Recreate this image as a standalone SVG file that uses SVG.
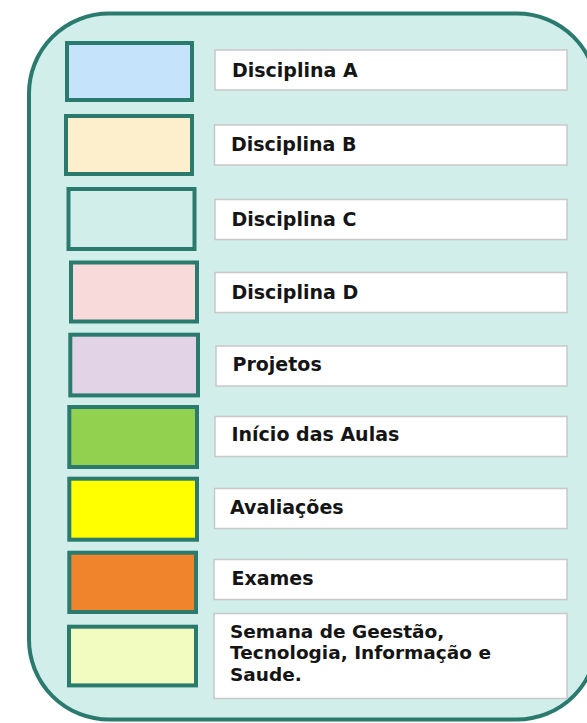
<svg xmlns="http://www.w3.org/2000/svg" width="587" height="723" viewBox="0 0 587 723">
<style>
.frame{fill:#d1eeeb;stroke:#2a7a6d;stroke-width:4}
.sw{stroke:#2a7a6d;stroke-width:4}
.lab{fill:#ffffff;stroke:#c8c8c8;stroke-width:1.5}
.t{font-family:"DejaVu Sans",Verdana,sans-serif;font-weight:bold;font-size:19px;fill:#151515}
.ts{font-family:"DejaVu Sans",Verdana,sans-serif;font-weight:bold;font-size:18.5px;fill:#151515}
</style>
<rect width="587" height="723" fill="#ffffff"/>
<rect id="frame" class="frame" x="29" y="13.5" width="568" height="706" rx="80" ry="80"/>
<g id="legend-a">
<rect class="sw" x="67" y="43" width="125" height="57" fill="#c5e3fb"/>
<rect class="lab" x="215" y="50" width="352" height="40"/>
<text class="t" x="232" y="76.5">Disciplina A</text>
</g>
<g id="legend-b">
<rect class="sw" x="66" y="116" width="126" height="58" fill="#fdefcc"/>
<rect class="lab" x="214.5" y="125" width="352.5" height="40"/>
<text class="t" x="231" y="151">Disciplina B</text>
</g>
<g id="legend-c">
<rect class="sw" x="68.5" y="189" width="126" height="60" fill="#d1eeeb" stroke="#3d9d90"/>
<rect class="lab" x="215" y="199.5" width="352" height="40"/>
<text class="t" x="231.5" y="225.5">Disciplina C</text>
</g>
<g id="legend-d">
<rect class="sw" x="71" y="262.5" width="126" height="59" fill="#f7dad9"/>
<rect class="lab" x="215" y="272.5" width="352" height="40"/>
<text class="t" x="231.5" y="298.5">Disciplina D</text>
</g>
<g id="legend-projetos">
<rect class="sw" x="70.3" y="334.7" width="127.7" height="60.7" fill="#e2d4e6"/>
<rect class="lab" x="216" y="346" width="351" height="40"/>
<text class="t" x="232.5" y="371">Projetos</text>
</g>
<g id="legend-inicio">
<rect class="sw" x="69.3" y="407" width="127.7" height="60" fill="#92d050"/>
<rect class="lab" x="215" y="416.5" width="352" height="40"/>
<text class="t" x="231.5" y="441">Início das Aulas</text>
</g>
<g id="legend-avaliacoes">
<rect class="sw" x="69.3" y="478.7" width="127.7" height="61" fill="#ffff00"/>
<rect class="lab" x="214.5" y="488.5" width="352.5" height="40"/>
<text class="t" x="230" y="513.5">Avaliações</text>
</g>
<g id="legend-exames">
<rect class="sw" x="69.3" y="552.7" width="126.7" height="59.3" fill="#f0842c"/>
<rect class="lab" x="214" y="559.5" width="353" height="40"/>
<text class="t" x="231.5" y="585">Exames</text>
</g>
<g id="legend-semana">
<rect class="sw" x="69" y="626.7" width="127" height="58.7" fill="#f3fcc0"/>
<rect class="lab" x="214" y="613.5" width="353" height="85"/>
<text class="ts" x="230" y="637.5">Semana de Geestão,</text>
<text class="ts" x="230" y="659">Tecnologia, Informação e</text>
<text class="ts" x="230" y="680.5">Saude.</text>
</g>
<g id="connectors"/>
</svg>
